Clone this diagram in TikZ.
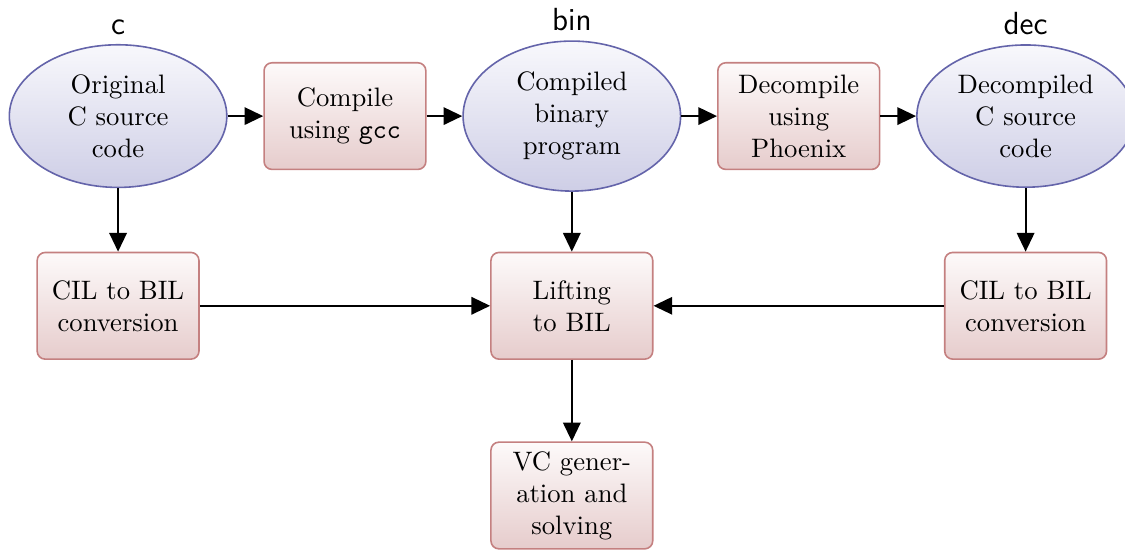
\documentclass[tikz,border=0pt]{standalone}
\usetikzlibrary{shapes.geometric,arrows.meta}

\definecolor{ellborder}{RGB}{100,100,170}
\definecolor{elltop}{RGB}{248,248,252}
\definecolor{ellbot}{RGB}{206,206,230}
\definecolor{boxborder}{RGB}{196,128,128}
\definecolor{boxtop}{RGB}{253,250,250}
\definecolor{boxbot}{RGB}{230,204,204}

\tikzset{
  artifact/.style={ellipse, draw=ellborder, semithick, top color=elltop,
    bottom color=ellbot, text width=51pt, align=center},
  stage/.style={rectangle, rounded corners=3pt, draw=boxborder, semithick,
    top color=boxtop, bottom color=boxbot, text width=54pt, align=center,
    minimum height=40pt},
  tag/.style={font=\sffamily\large},
  flow/.style={-{Triangle[length=7pt,width=6.5pt]}, thick}
}

\begin{document}
\begin{tikzpicture}
  \useasboundingbox (-1.556,1.53) rectangle (13.27,-5.72);

  % top row: source, compiler, binary, decompiler, decompiled source
  \node[artifact, label={[tag]above:c}] (csrc) at (0,0) {Original\\C source\\code};
  \node[stage] (compile) at (2.99,0) {Compile\\using \texttt{gcc}};
  \node[artifact, label={[tag]above:bin}] (bin) at (5.98,0) {Compiled\\binary\\program};
  \node[stage] (decompile) at (8.97,0) {Decompile\\using\\Phoenix};
  \node[artifact, label={[tag]above:dec}] (dec) at (11.96,0) {Decompiled\\C source\\code};

  % translation to BIL
  \node[stage] (cilc) at (0,-2.5) {CIL to BIL\\conversion};
  \node[stage] (lift) at (5.98,-2.5) {Lifting\\to BIL};
  \node[stage] (cild) at (11.96,-2.5) {CIL to BIL\\conversion};

  \node[stage] (vcgen) at (5.98,-5) {VC gener-\\ation and\\solving};

  \draw[flow] (csrc) -- (compile);
  \draw[flow] (compile) -- (bin);
  \draw[flow] (bin) -- (decompile);
  \draw[flow] (decompile) -- (dec);

  \draw[flow] (csrc) -- (cilc);
  \draw[flow] (bin) -- (lift);
  \draw[flow] (dec) -- (cild);

  \draw[flow] (cilc) -- (lift);
  \draw[flow] (cild) -- (lift);
  \draw[flow] (lift) -- (vcgen);
\end{tikzpicture}
\end{document}
